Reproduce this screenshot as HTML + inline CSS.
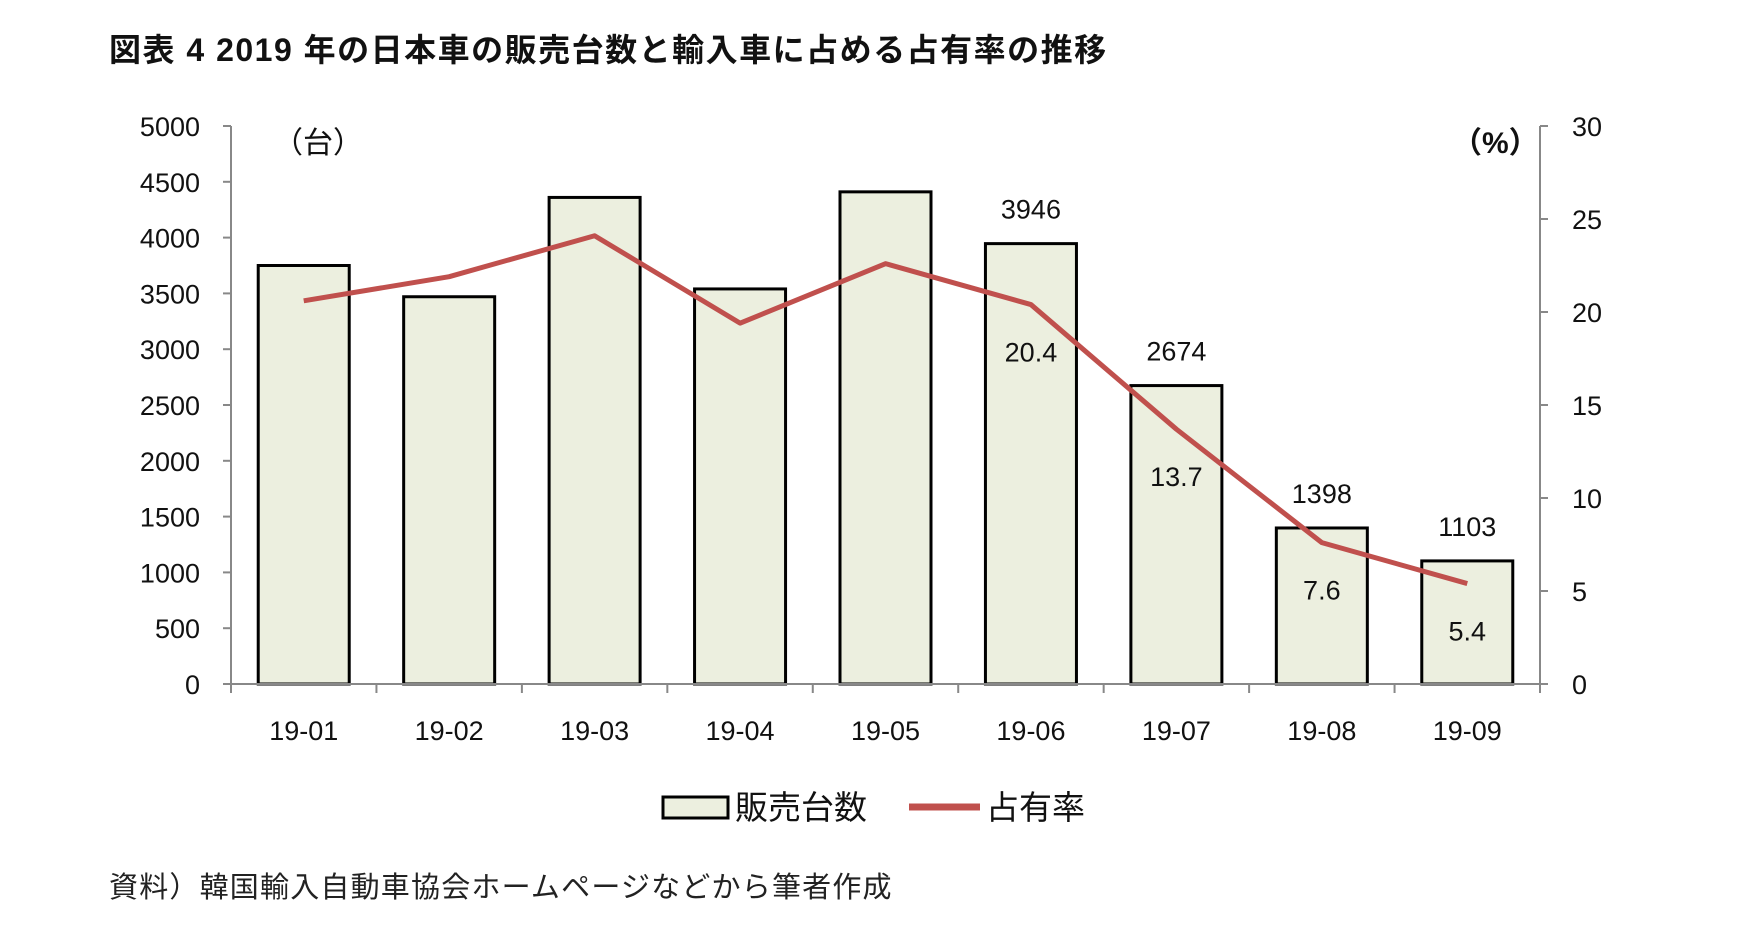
<!DOCTYPE html>
<html><head><meta charset="utf-8"><style>
body{margin:0;background:#fff;width:1742px;height:940px;overflow:hidden;font-family:"Liberation Sans","Noto Sans CJK JP",sans-serif}
</style></head><body>
<svg id="c" width="1742" height="940" style="font-family:'Liberation Sans','Noto Sans CJK JP',sans-serif">
<text x="109" y="61" font-size="32" font-weight="bold" letter-spacing="1.5" fill="#111">図表 4 2019 年の日本車の販売台数と輸入車に占める占有率の推移</text>
<text x="109" y="897" font-size="29" letter-spacing="1.2" fill="#222">資料）韓国輸入自動車協会ホームページなどから筆者作成</text>
<text x="273" y="153" font-size="30" fill="#111">（台）</text>
<text x="1452" y="153" font-size="30" font-weight="bold" fill="#111">（%）</text>
<g id="g"></g>
<g>
<rect x="663" y="797" width="65" height="21" fill="#ecefdf" stroke="#000" stroke-width="3"/>
<text x="735" y="819" font-size="33" fill="#111">販売台数</text>
<line x1="909" y1="807" x2="980" y2="807" stroke="#c0504d" stroke-width="7"/>
<text x="986" y="819" font-size="33" fill="#111">占有率</text>
</g>
</svg>
<script>
const categories=["19-01","19-02","19-03","19-04","19-05","19-06","19-07","19-08","19-09"];
const sales=[3750,3470,4360,3540,4410,3946,2674,1398,1103];
const share=[20.6,21.9,24.1,19.4,22.6,20.4,13.7,7.6,5.4];
const salesLabels=[null,null,null,null,null,"3946","2674","1398","1103"];
const shareLabels=[null,null,null,null,null,"20.4","13.7","7.6","5.4"];
const leftTicks=[0,500,1000,1500,2000,2500,3000,3500,4000,4500,5000];
const rightTicks=[0,5,10,15,20,25,30];
const X0=231,X1=1540,Y0=684,Y1=126;
const step=(X1-X0)/categories.length;
const xc=i=>X0+step*(i+0.5);
const yL=v=>Y0-(v/5000)*(Y0-Y1);
const yR=v=>Y0-(v/30)*(Y0-Y1);
const g=document.getElementById('g');
const NS="http://www.w3.org/2000/svg";
function mk(t,a,txt){const e=document.createElementNS(NS,t);for(const k in a)e.setAttribute(k,a[k]);if(txt!=null)e.textContent=txt;g.appendChild(e);return e;}
let e;
e=mk('line',{x1:X0,y1:Y1,x2:X0,y2:Y0+1,stroke:'#888','stroke-width':2});


e=mk('line',{x1:X1,y1:Y1,x2:X1,y2:Y0+1,stroke:'#888','stroke-width':2});


leftTicks.forEach(v=>{
 mk('line',{x1:X0-8,y1:yL(v),x2:X0,y2:yL(v),stroke:'#888','stroke-width':2});
 e=mk('text',{x:200,y:yL(v)+10,'font-size':27,'text-anchor':'end',fill:'#111'},String(v));
 
 
});
rightTicks.forEach(v=>{
 mk('line',{x1:X1,y1:yR(v),x2:X1+8,y2:yR(v),stroke:'#888','stroke-width':2});
 e=mk('text',{x:1572,y:yR(v)+10,'font-size':27,fill:'#111'},String(v));
 
 
});
for(let i=0;i<=categories.length;i++) mk('line',{x1:X0+step*i,y1:Y0,x2:X0+step*i,y2:Y0+9,stroke:'#888','stroke-width':2});
const bw=91;
sales.forEach((v,i)=>{
 e=mk('rect',{x:xc(i)-bw/2,y:yL(v),width:bw,height:Y0-yL(v),fill:'#ecefdf',stroke:'#000','stroke-width':3});
 
 
 if(salesLabels[i]){e=mk('text',{x:xc(i),y:yL(v)-25,'font-size':27,'text-anchor':'middle',fill:'#111'},salesLabels[i]);
 
 }
 e=mk('text',{x:xc(i),y:740,'font-size':27,'text-anchor':'middle',fill:'#111'},categories[i]);
 
 
});
mk('line',{x1:X0,y1:Y0,x2:X1,y2:Y0,stroke:'#888','stroke-width':2});
e=mk('polyline',{points:share.map((v,i)=>xc(i)+','+yR(v)).join(' '),fill:'none',stroke:'#c0504d','stroke-width':5,'stroke-linejoin':'round'});


share.forEach((v,i)=>{
 if(shareLabels[i]){e=mk('text',{x:xc(i),y:yR(v)+57,'font-size':27,'text-anchor':'middle',fill:'#111'},shareLabels[i]);
 
 }
});
</script>
</body></html>
